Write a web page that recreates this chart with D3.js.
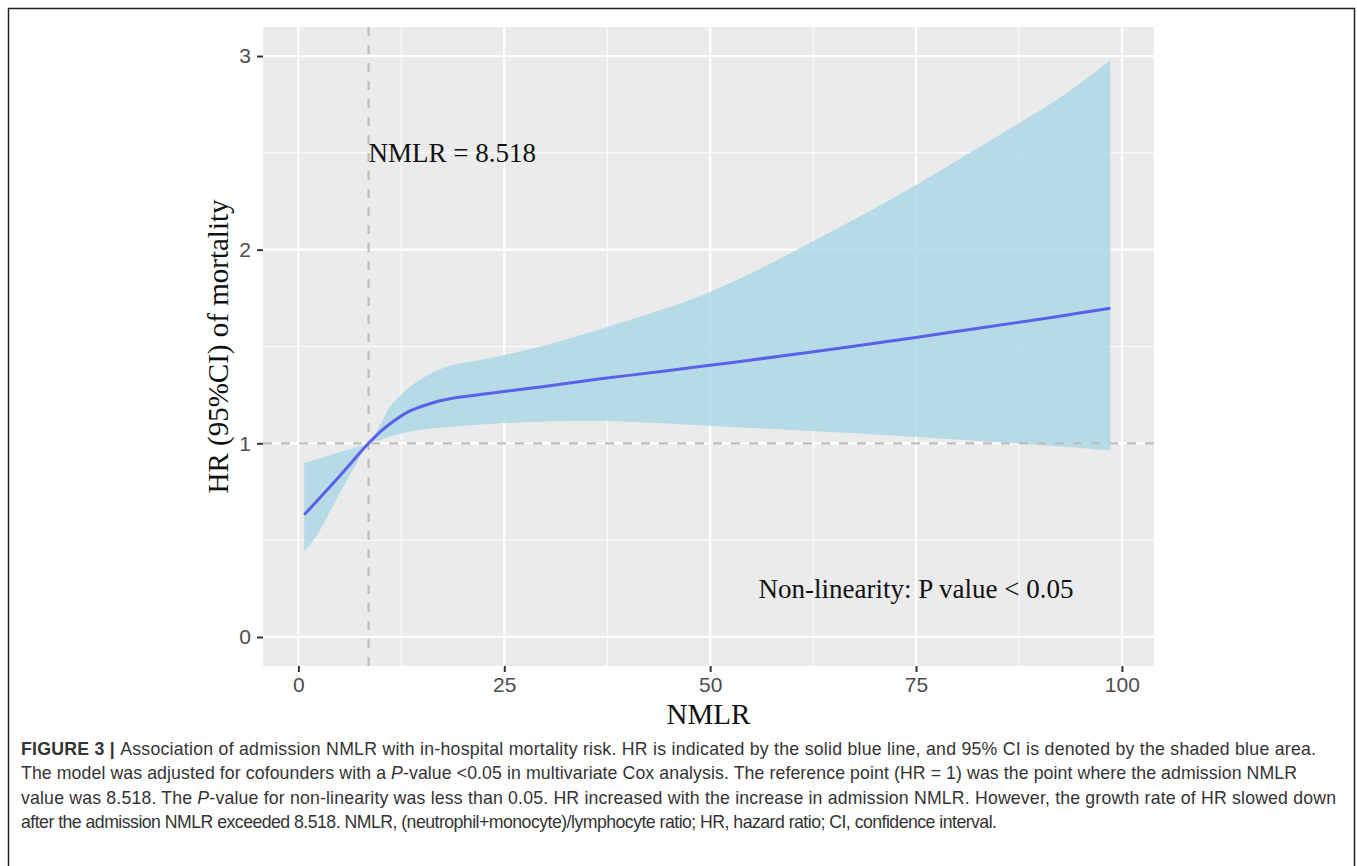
<!DOCTYPE html>
<html>
<head>
<meta charset="utf-8">
<script src="https://cdn.jsdelivr.net/npm/d3@7"></script>
<style>
  body { margin: 0; background: #fff; }
  svg { display: block; }
</style>
</head>
<body>
<div id="chart"></div>
<script>
// values
var nmlr    = [0.7, 2, 3, 4, 5.5, 7, 8.518, 10, 11.1, 13.2, 15.2, 17.2, 19.3, 23.3, 29.4, 36.7, 44.8, 49, 55, 61, 67, 73, 79, 87, 93, 98.6];
var hr      = [0.631, 0.690, 0.737, 0.784, 0.855, 0.928, 1.0, 1.062, 1.100, 1.160, 1.194, 1.220, 1.237, 1.258, 1.291, 1.333, 1.375, 1.398, 1.430, 1.464, 1.499, 1.535, 1.572, 1.622, 1.660, 1.698];
var hrUpper = [0.899, 0.915, 0.928, 0.941, 0.960, 0.980, 1.0, 1.10, 1.186, 1.280, 1.340, 1.383, 1.409, 1.440, 1.500, 1.590, 1.700, 1.765, 1.880, 2.010, 2.145, 2.285, 2.435, 2.640, 2.800, 2.978];
var hrLower = [0.442, 0.51, 0.58, 0.66, 0.78, 0.89, 1.0, 1.017, 1.035, 1.057, 1.071, 1.080, 1.088, 1.100, 1.112, 1.115, 1.102, 1.092, 1.079, 1.066, 1.053, 1.038, 1.022, 1.0, 0.982, 0.962];

var xTicks = [0, 25, 50, 75, 100];
var xMinor = [12.5, 37.5, 62.5, 87.5];
var yTicks = [0, 1, 2, 3];
var yMinor = [0.5, 1.5, 2.5];

var cutoff = 8.518;
var refHR = 1;

var captionLines = [
  [{t: "FIGURE 3 | ", b: true}, {t: "Association of admission NMLR with in-hospital mortality risk. HR is indicated by the solid blue line, and 95% CI is denoted by the shaded blue area."}],
  [{t: "The model was adjusted for cofounders with a "}, {t: "P", i: true}, {t: "-value <0.05 in multivariate Cox analysis. The reference point (HR = 1) was the point where the admission NMLR"}],
  [{t: "value was 8.518. The "}, {t: "P", i: true}, {t: "-value for non-linearity was less than 0.05. HR increased with the increase in admission NMLR. However, the growth rate of HR slowed down"}],
  [{t: "after the admission NMLR exceeded 8.518. NMLR, (neutrophil+monocyte)/lymphocyte ratio; HR, hazard ratio; CI, confidence interval."}]
];
var captionWidths = [1295, 1276, 1315, 976];

var data = nmlr.map(function(d, i) {
  return {x: d, hr: hr[i], lo: hrLower[i], hi: hrUpper[i]};
});

var W = 1357, H = 866;
var panel = {left: 263, top: 27, right: 1154, bottom: 666};

var svg = d3.select("#chart").append("svg")
    .attr("width", W)
    .attr("height", H);

// figure frame
svg.append("rect")
    .attr("x", 8.5).attr("y", 8.5)
    .attr("width", 1346).attr("height", 900)
    .attr("fill", "none")
    .attr("stroke", "#222")
    .attr("stroke-width", 1.5);

//scales
var x = d3.scaleLinear()
    .domain([-4.3, 103.9])
    .range([panel.left, panel.right]);

var y = d3.scaleLinear()
    .domain([-0.15, 3.15])
    .range([panel.bottom, panel.top]);

// panel background
svg.append("rect")
    .attr("x", panel.left).attr("y", panel.top)
    .attr("width", panel.right - panel.left)
    .attr("height", panel.bottom - panel.top)
    .attr("fill", "#ebebeb");

var grid = svg.append("g");

grid.selectAll(".xminor").data(xMinor).enter().append("line")
    .attr("x1", d => x(d)).attr("x2", d => x(d))
    .attr("y1", panel.top).attr("y2", panel.bottom)
    .attr("stroke", "#fff").attr("stroke-width", 1);

grid.selectAll(".yminor").data(yMinor).enter().append("line")
    .attr("y1", d => y(d)).attr("y2", d => y(d))
    .attr("x1", panel.left).attr("x2", panel.right)
    .attr("stroke", "#fff").attr("stroke-width", 1);

grid.selectAll(".xmajor").data(xTicks).enter().append("line")
    .attr("x1", d => x(d)).attr("x2", d => x(d))
    .attr("y1", panel.top).attr("y2", panel.bottom)
    .attr("stroke", "#fff").attr("stroke-width", 2.2);

grid.selectAll(".ymajor").data(yTicks).enter().append("line")
    .attr("y1", d => y(d)).attr("y2", d => y(d))
    .attr("x1", panel.left).attr("x2", panel.right)
    .attr("stroke", "#fff").attr("stroke-width", 2.2);

// confidence band
var area = d3.area()
    .x(d => x(d.x))
    .y0(d => y(d.lo))
    .y1(d => y(d.hi))
    .curve(d3.curveCatmullRom.alpha(0.5));

svg.append("path")
    .datum(data)
    .attr("d", area)
    .attr("fill", "#add8e6")
    .attr("fill-opacity", 0.85);

// reference lines
svg.append("line")
    .attr("x1", x(cutoff)).attr("x2", x(cutoff))
    .attr("y1", panel.top).attr("y2", panel.bottom)
    .attr("stroke", "#bdbdbd").attr("stroke-width", 2.2)
    .attr("stroke-dasharray", "9,9");

svg.append("line")
    .attr("x1", panel.left).attr("x2", panel.right)
    .attr("y1", y(refHR)).attr("y2", y(refHR))
    .attr("stroke", "#bdbdbd").attr("stroke-width", 2.2)
    .attr("stroke-dasharray", "9,9");

// HR line
var line = d3.line()
    .x(d => x(d.x))
    .y(d => y(d.hr))
    .curve(d3.curveCatmullRom.alpha(0.5));

svg.append("path")
    .datum(data)
    .attr("d", line)
    .attr("fill", "none")
    .attr("stroke", "#5a60e8")
    .attr("stroke-width", 3);

// axes
var xAxis = svg.append("g")
    .attr("transform", "translate(0," + panel.bottom + ")")
    .call(d3.axisBottom(x).tickValues(xTicks).tickFormat(d3.format("d")).tickSize(6).tickPadding(5));

var yAxis = svg.append("g")
    .attr("transform", "translate(" + panel.left + ",0)")
    .call(d3.axisLeft(y).tickValues(yTicks).tickFormat(d3.format("d")).tickSize(6).tickPadding(6));

[xAxis, yAxis].forEach(function(a) {
  a.select(".domain").remove();
  a.selectAll(".tick line").attr("stroke", "#333").attr("stroke-width", 2);
  a.selectAll(".tick text")
      .attr("fill", "#4d4d4d")
      .style("font-family", "'Liberation Sans', Arial, sans-serif")
      .style("font-size", "21px");
});

// axis titles
svg.append("text")
    .attr("x", (panel.left + panel.right) / 2)
    .attr("y", 724)
    .attr("text-anchor", "middle")
    .style("font-family", "'Liberation Serif', 'Times New Roman', serif")
    .style("font-size", "29px")
    .attr("fill", "#111")
    .text("NMLR");

svg.append("text")
    .attr("transform", "translate(228," + (panel.top + panel.bottom) / 2 + ") rotate(-90)")
    .attr("text-anchor", "middle")
    .style("font-family", "'Liberation Serif', 'Times New Roman', serif")
    .style("font-size", "29px")
    .attr("fill", "#111")
    .text("HR (95%CI) of mortality");

// annotations
svg.append("text")
    .attr("x", x(cutoff))
    .attr("y", y(2.5))
    .attr("dy", "0.35em")
    .style("font-family", "'Liberation Serif', 'Times New Roman', serif")
    .style("font-size", "27px")
    .attr("fill", "#111")
    .text("NMLR = 8.518");

svg.append("text")
    .attr("x", x(75))
    .attr("y", y(0.25))
    .attr("dy", "0.35em")
    .attr("text-anchor", "middle")
    .style("font-family", "'Liberation Serif', 'Times New Roman', serif")
    .style("font-size", "27px")
    .attr("fill", "#111")
    .text("Non-linearity: P value < 0.05");

// caption: one common horizontal squeeze, then spacing to hit each line's width
var capG = svg.append("g");
var capTexts = captionLines.map(function(parts, i) {
  var t = capG.append("text")
      .attr("x", 0)
      .attr("y", 755 + i * 24.5)
      .style("font-family", "'Liberation Sans', Arial, sans-serif")
      .style("font-size", "17.5px")
      .attr("fill", "#333");
  parts.forEach(function(p) {
    t.append("tspan")
        .style("font-weight", p.b ? "bold" : null)
        .style("font-style", p.i ? "italic" : null)
        .text(p.t);
  });
  return t;
});
var ratios = capTexts.map((t, i) => captionWidths[i] / t.node().getComputedTextLength());
var sx = d3.mean(ratios);
capG.attr("transform", "translate(21,0) scale(" + sx + ",1)");
capTexts.forEach(function(t, i) {
  t.attr("textLength", captionWidths[i] / sx).attr("lengthAdjust", "spacing");
});
</script>
</body>
</html>
